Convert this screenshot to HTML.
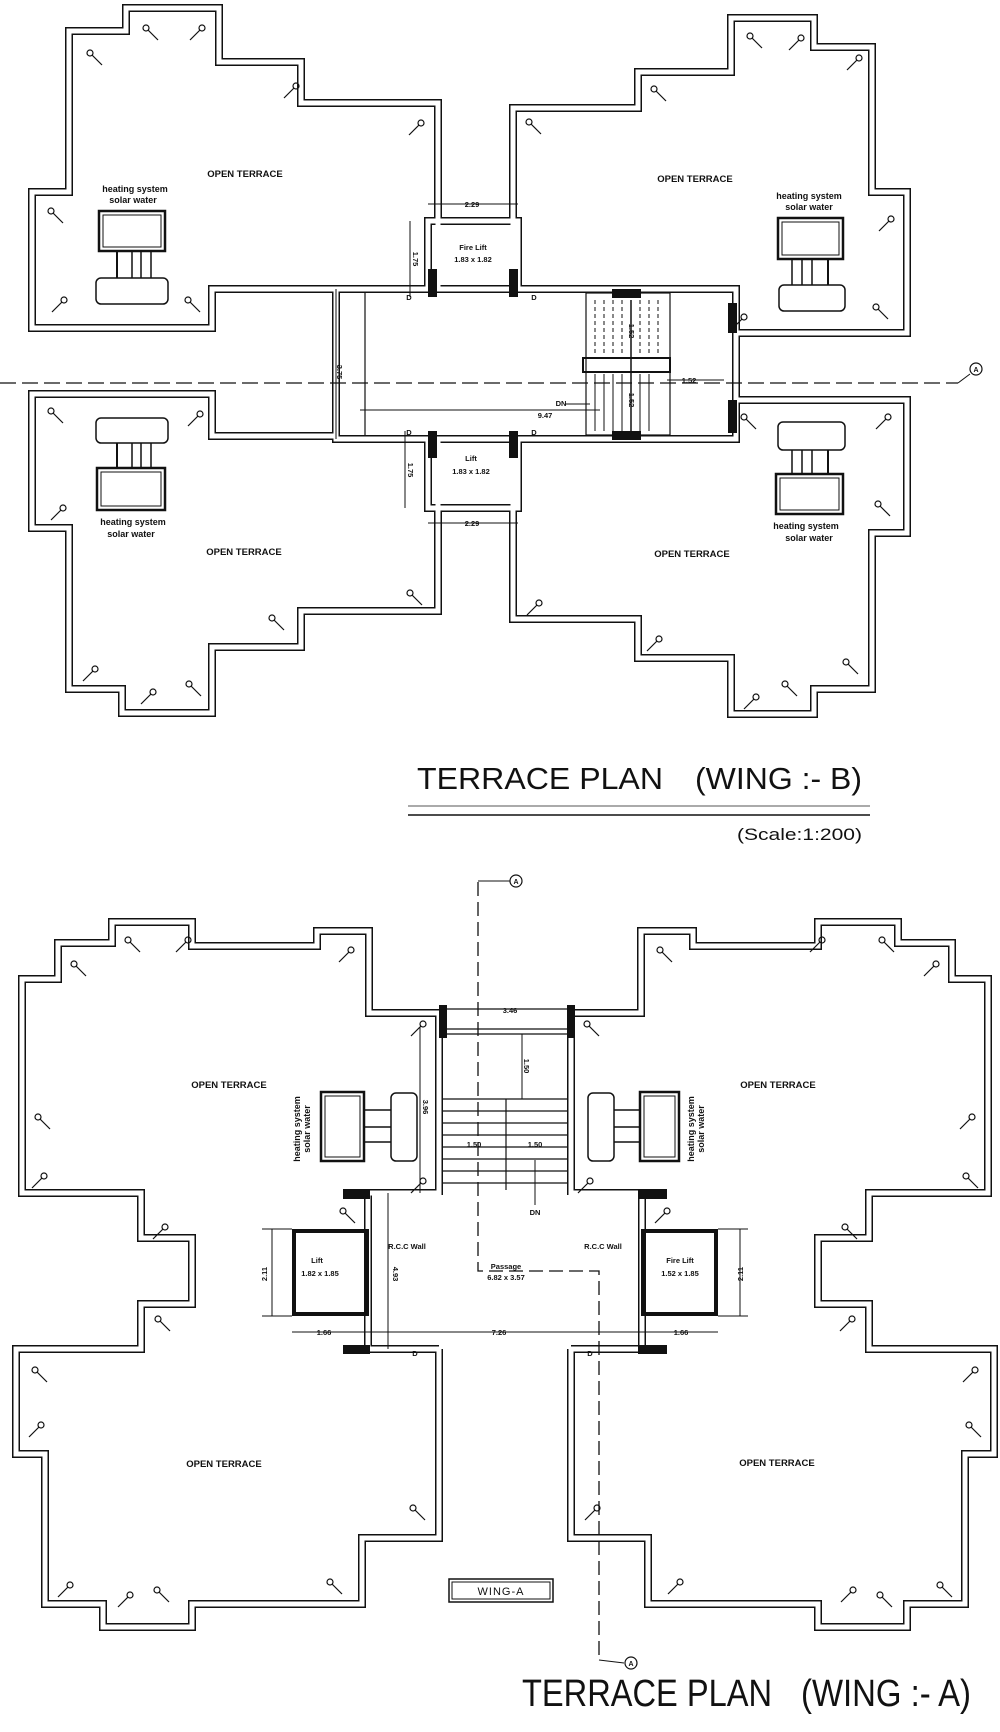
<!DOCTYPE html>
<html><head><meta charset="utf-8"><style>
html,body{margin:0;padding:0;background:#fff;}
svg{display:block;}
text{font-family:"Liberation Sans",sans-serif;fill:#111;}
.b{font-weight:bold;}
</style></head><body>
<svg width="1000" height="1732" viewBox="0 0 1000 1732" xmlns="http://www.w3.org/2000/svg">
<defs>
<g id="lmp"><circle cx="0" cy="0" r="3" fill="none" stroke="#111" stroke-width="1.2"/><line x1="-2" y1="2" x2="-12" y2="12" stroke="#111" stroke-width="1.2"/></g>
<g id="lmp2"><circle cx="0" cy="0" r="3" fill="none" stroke="#111" stroke-width="1.2"/><line x1="2" y1="2" x2="12" y2="12" stroke="#111" stroke-width="1.2"/></g>
</defs>
<rect width="1000" height="1732" fill="#fff"/>

<!-- ============ WING B ============ -->
<g fill="none" stroke-linejoin="miter">
<g stroke="#111" stroke-width="8">
<polyline points="438,289 438,103 301,103 301,62 219,62 219,8 126,8 126,31 69,31 69,192 32,192 32,328 212,328 212,289 336,289"/>
<polyline points="513,289 513,108 638,108 638,72 731,72 731,18 814,18 814,47 872,47 872,192 907,192 907,333 736,333"/>
<polyline points="336,436 212,436 212,394 32,394 32,528 69,528 69,689 122,689 122,713 212,713 212,647 301,647 301,611 438,611 438,439"/>
<polyline points="736,400 907,400 907,533 872,533 872,689 814,689 814,714 731,714 731,658 638,658 638,619 513,619 513,439"/>
<rect x="336" y="289" width="400" height="150"/>
<rect x="428" y="221" width="90" height="68"/>
<rect x="428" y="439" width="90" height="69"/>
</g>
<g stroke="#fff" stroke-width="5">
<polyline points="438,289 438,103 301,103 301,62 219,62 219,8 126,8 126,31 69,31 69,192 32,192 32,328 212,328 212,289 336,289"/>
<polyline points="513,289 513,108 638,108 638,72 731,72 731,18 814,18 814,47 872,47 872,192 907,192 907,333 736,333"/>
<polyline points="336,436 212,436 212,394 32,394 32,528 69,528 69,689 122,689 122,713 212,713 212,647 301,647 301,611 438,611 438,439"/>
<polyline points="736,400 907,400 907,533 872,533 872,689 814,689 814,714 731,714 731,658 638,658 638,619 513,619 513,439"/>
<rect x="336" y="289" width="400" height="150"/>
<rect x="428" y="221" width="90" height="68"/>
<rect x="428" y="439" width="90" height="69"/>
</g>
<rect x="341" y="293" width="391" height="142" fill="#fff" stroke="none"/>
<rect x="432" y="225" width="82" height="60" fill="#fff" stroke="none"/>
<rect x="432" y="443" width="82" height="61" fill="#fff" stroke="none"/>
<line x1="365" y1="293" x2="365" y2="435" stroke="#111" stroke-width="1.2"/>
<rect x="586" y="293" width="84" height="142" stroke="#111" stroke-width="1.2"/>
<g stroke="#111" stroke-width="1" stroke-dasharray="4,3">
<line x1="595" y1="300" x2="595" y2="356"/><line x1="604" y1="300" x2="604" y2="356"/><line x1="613" y1="300" x2="613" y2="356"/><line x1="622" y1="300" x2="622" y2="356"/><line x1="640" y1="300" x2="640" y2="356"/><line x1="649" y1="300" x2="649" y2="356"/><line x1="658" y1="300" x2="658" y2="356"/>
</g>
<g stroke="#111" stroke-width="1">
<line x1="595" y1="374" x2="595" y2="431"/><line x1="604" y1="374" x2="604" y2="431"/><line x1="613" y1="374" x2="613" y2="431"/><line x1="622" y1="374" x2="622" y2="431"/><line x1="640" y1="374" x2="640" y2="431"/><line x1="649" y1="374" x2="649" y2="431"/>
</g>
<rect x="583" y="358" width="87" height="14" stroke="#111" stroke-width="2"/>
<line x1="631" y1="300" x2="631" y2="431" stroke="#111" stroke-width="1.5"/>
</g>
<g fill="#111">
<rect x="428" y="269" width="9" height="28"/><rect x="509" y="269" width="9" height="28"/>
<rect x="428" y="431" width="9" height="27"/><rect x="509" y="431" width="9" height="27"/>
<rect x="612" y="289" width="29" height="9"/><rect x="612" y="431" width="29" height="9"/>
<rect x="728" y="303" width="9" height="30"/><rect x="728" y="400" width="9" height="33"/>
</g>
<g stroke="#111" stroke-width="1" fill="none">
<line x1="428" y1="204" x2="518" y2="204"/><line x1="428" y1="523" x2="518" y2="523"/>
<line x1="410" y1="221" x2="410" y2="297"/><line x1="405" y1="431" x2="405" y2="508"/>
<line x1="336" y1="289" x2="336" y2="439"/>
<line x1="360" y1="410" x2="600" y2="410"/>
<line x1="667" y1="380" x2="724" y2="380"/>
<line x1="565" y1="404" x2="590" y2="404"/>
</g>
<g stroke="#111" stroke-width="1.3" stroke-dasharray="16,6" fill="none">
<line x1="0" y1="383" x2="958" y2="383"/>
</g>
<line x1="958" y1="383" x2="970" y2="374" stroke="#111" stroke-width="1"/>
<circle cx="976" cy="369" r="6" fill="#fff" stroke="#111" stroke-width="1.2"/>
<text x="976" y="372" font-size="7" text-anchor="middle" class="b">A</text>

<g class="b" font-size="7.5" text-anchor="middle">
<text x="472" y="207" class="b">2.29</text>
<text x="472" y="526" class="b">2.29</text>
<text x="473" y="250" class="b">Fire Lift</text>
<text x="473" y="262" class="b">1.83 x 1.82</text>
<text x="471" y="461" class="b">Lift</text>
<text x="471" y="474" class="b">1.83 x 1.82</text>
<text x="545" y="418" class="b">9.47</text>
<text x="561" y="406" class="b">DN</text>
<text x="689" y="383" class="b">1.52</text>
<text x="409" y="300" class="b">D</text><text x="534" y="300" class="b">D</text>
<text x="409" y="435" class="b">D</text><text x="534" y="435" class="b">D</text>
<text transform="translate(413,259) rotate(90)" class="b">1.75</text>
<text transform="translate(408,470) rotate(90)" class="b">1.75</text>
<text transform="translate(337,372) rotate(90)" class="b">3.75</text>
<text transform="translate(629,331) rotate(90)" class="b">1.52</text>
<text transform="translate(629,400) rotate(90)" class="b">1.52</text>
</g>
<g font-size="9.5" text-anchor="middle" class="b">
<text x="245" y="177" class="b">OPEN TERRACE</text>
<text x="695" y="182" class="b">OPEN TERRACE</text>
<text x="244" y="555" class="b">OPEN TERRACE</text>
<text x="692" y="557" class="b">OPEN TERRACE</text>
</g>
<g font-size="9" text-anchor="middle" class="b">
<text x="135" y="192" class="b">heating system</text><text x="133" y="203" class="b">solar water</text>
<text x="809" y="199" class="b">heating system</text><text x="809" y="210" class="b">solar water</text>
<text x="133" y="525" class="b">heating system</text><text x="131" y="537" class="b">solar water</text>
<text x="806" y="529" class="b">heating system</text><text x="809" y="541" class="b">solar water</text>
</g>
<g fill="none" stroke="#111">
<rect x="99" y="211" width="66" height="40" stroke-width="2.5"/><rect x="103" y="215" width="58" height="32" stroke-width="1"/>
<rect x="96" y="278" width="72" height="26" rx="5" stroke-width="1.5"/>
<line x1="117" y1="251" x2="117" y2="278" stroke-width="2"/><line x1="132" y1="251" x2="132" y2="278" stroke-width="1.5"/><line x1="141" y1="251" x2="141" y2="278" stroke-width="1.5"/><line x1="151" y1="251" x2="151" y2="278" stroke-width="1.5"/>
<rect x="778" y="218" width="65" height="41" stroke-width="2.5"/><rect x="782" y="222" width="57" height="33" stroke-width="1"/>
<rect x="779" y="285" width="66" height="26" rx="5" stroke-width="1.5"/>
<line x1="792" y1="259" x2="792" y2="285" stroke-width="1.5"/><line x1="802" y1="259" x2="802" y2="285" stroke-width="1.5"/><line x1="812" y1="259" x2="812" y2="285" stroke-width="1.5"/><line x1="828" y1="259" x2="828" y2="285" stroke-width="2"/>
<rect x="96" y="418" width="72" height="25" rx="5" stroke-width="1.5"/>
<rect x="97" y="468" width="68" height="42" stroke-width="2.5"/><rect x="101" y="472" width="60" height="34" stroke-width="1"/>
<line x1="117" y1="443" x2="117" y2="468" stroke-width="2"/><line x1="132" y1="443" x2="132" y2="468" stroke-width="1.5"/><line x1="141" y1="443" x2="141" y2="468" stroke-width="1.5"/><line x1="151" y1="443" x2="151" y2="468" stroke-width="1.5"/>
<rect x="778" y="422" width="67" height="28" rx="5" stroke-width="1.5"/>
<rect x="776" y="474" width="67" height="40" stroke-width="2.5"/><rect x="780" y="478" width="59" height="32" stroke-width="1"/>
<line x1="792" y1="450" x2="792" y2="474" stroke-width="1.5"/><line x1="802" y1="450" x2="802" y2="474" stroke-width="1.5"/><line x1="812" y1="450" x2="812" y2="474" stroke-width="1.5"/><line x1="828" y1="450" x2="828" y2="474" stroke-width="2"/>
</g>
<g>
<use href="#lmp2" x="146" y="28"/><use href="#lmp" x="202" y="28"/><use href="#lmp2" x="90" y="53"/><use href="#lmp" x="296" y="86"/><use href="#lmp" x="421" y="123"/><use href="#lmp2" x="51" y="211"/><use href="#lmp" x="64" y="300"/><use href="#lmp2" x="188" y="300"/>
<use href="#lmp2" x="750" y="36"/><use href="#lmp" x="801" y="38"/><use href="#lmp" x="859" y="58"/><use href="#lmp2" x="654" y="89"/><use href="#lmp2" x="529" y="122"/><use href="#lmp" x="891" y="219"/><use href="#lmp2" x="876" y="307"/><use href="#lmp" x="744" y="317"/>
<use href="#lmp2" x="51" y="411"/><use href="#lmp" x="200" y="414"/><use href="#lmp" x="63" y="508"/><use href="#lmp2" x="410" y="593"/><use href="#lmp2" x="272" y="618"/><use href="#lmp" x="95" y="669"/><use href="#lmp" x="153" y="692"/><use href="#lmp2" x="189" y="684"/>
<use href="#lmp2" x="744" y="417"/><use href="#lmp" x="888" y="417"/><use href="#lmp2" x="878" y="504"/><use href="#lmp" x="539" y="603"/><use href="#lmp" x="659" y="639"/><use href="#lmp2" x="846" y="662"/><use href="#lmp" x="756" y="697"/><use href="#lmp2" x="785" y="684"/>
</g>
<text x="417" y="789" font-size="31" textLength="246" lengthAdjust="spacingAndGlyphs">TERRACE PLAN</text>
<text x="695" y="789" font-size="31" textLength="167" lengthAdjust="spacingAndGlyphs">(WING :- B)</text>
<line x1="408" y1="806" x2="870" y2="806" stroke="#555" stroke-width="1"/>
<line x1="408" y1="815" x2="870" y2="815" stroke="#111" stroke-width="1.5"/>
<text x="737" y="840" font-size="17" textLength="125" lengthAdjust="spacingAndGlyphs">(Scale:1:200)</text>

<!-- ============ WING A ============ -->
<g fill="none">
<g stroke="#111" stroke-width="8">
<polyline points="439,1013 369,1013 369,931 317,931 317,946 192,946 192,922 112,922 112,943 58,943 58,979 22,979 22,1193 141,1193 141,1238 192,1238 192,1304 141,1304 141,1349 16,1349 16,1454 45,1454 45,1604 103,1604 103,1627 192,1627 192,1604 362,1604 362,1538 439,1538 439,1349"/>
<polyline points="571,1013 641,1013 641,931 693,931 693,946 818,946 818,922 898,922 898,943 952,943 952,979 988,979 988,1193 869,1193 869,1238 818,1238 818,1304 869,1304 869,1349 994,1349 994,1454 965,1454 965,1604 907,1604 907,1627 818,1627 818,1604 648,1604 648,1538 571,1538 571,1349"/>
<polyline points="439,1013 439,1193 343,1193"/>
<polyline points="571,1013 571,1193 667,1193"/>
<polyline points="343,1349 439,1349"/><polyline points="571,1349 667,1349"/>
<line x1="368" y1="1193" x2="368" y2="1349"/><line x1="642" y1="1193" x2="642" y2="1349"/>
</g>
<g stroke="#fff" stroke-width="5">
<polyline points="439,1013 369,1013 369,931 317,931 317,946 192,946 192,922 112,922 112,943 58,943 58,979 22,979 22,1193 141,1193 141,1238 192,1238 192,1304 141,1304 141,1349 16,1349 16,1454 45,1454 45,1604 103,1604 103,1627 192,1627 192,1604 362,1604 362,1538 439,1538 439,1349"/>
<polyline points="571,1013 641,1013 641,931 693,931 693,946 818,946 818,922 898,922 898,943 952,943 952,979 988,979 988,1193 869,1193 869,1238 818,1238 818,1304 869,1304 869,1349 994,1349 994,1454 965,1454 965,1604 907,1604 907,1627 818,1627 818,1604 648,1604 648,1538 571,1538 571,1349"/>
<polyline points="439,1013 439,1193 343,1193"/>
<polyline points="571,1013 571,1193 667,1193"/>
<polyline points="343,1349 439,1349"/><polyline points="571,1349 667,1349"/>
<line x1="368" y1="1193" x2="368" y2="1349"/><line x1="642" y1="1193" x2="642" y2="1349"/>
</g>
<rect x="443" y="1190" width="124" height="8" fill="#fff" stroke="none"/>
<rect x="372" y="1195" width="266" height="150" fill="#fff" stroke="none"/>
<g stroke="#111" stroke-width="1.2">
<line x1="439" y1="1009" x2="571" y2="1009"/>
<line x1="443" y1="1029" x2="567" y2="1029"/><line x1="443" y1="1034" x2="567" y2="1034"/>
<line x1="443" y1="1099" x2="567" y2="1099"/><line x1="443" y1="1111" x2="567" y2="1111"/><line x1="443" y1="1123" x2="567" y2="1123"/><line x1="443" y1="1135" x2="567" y2="1135"/><line x1="443" y1="1147" x2="567" y2="1147"/><line x1="443" y1="1159" x2="567" y2="1159"/><line x1="443" y1="1171" x2="567" y2="1171"/><line x1="443" y1="1183" x2="567" y2="1183"/>
<line x1="506" y1="1099" x2="506" y2="1190"/>
<line x1="535" y1="1160" x2="535" y2="1205" stroke-width="1"/>
</g>
<g fill="none" stroke="#111" stroke-width="1">
<line x1="420" y1="1027" x2="420" y2="1193"/>
<line x1="522" y1="1034" x2="522" y2="1099"/>
<line x1="272" y1="1229" x2="272" y2="1316"/><line x1="740" y1="1229" x2="740" y2="1316"/>
<line x1="388" y1="1193" x2="388" y2="1349"/>
<line x1="292" y1="1332" x2="718" y2="1332"/>
<line x1="262" y1="1229" x2="292" y2="1229"/><line x1="262" y1="1316" x2="292" y2="1316"/>
<line x1="718" y1="1229" x2="748" y2="1229"/><line x1="718" y1="1316" x2="748" y2="1316"/>
</g>
<g stroke="#111" stroke-width="1.3" stroke-dasharray="14,6">
<polyline points="478,882 478,1271 599,1271 599,1660"/>
</g>
<line x1="599" y1="1660" x2="624" y2="1663" stroke="#111" stroke-width="1"/>
<line x1="478" y1="881" x2="510" y2="881" stroke="#111" stroke-width="1"/>
<rect x="294" y="1231" width="73" height="83" stroke="#111" stroke-width="4"/>
<rect x="643" y="1231" width="73" height="83" stroke="#111" stroke-width="4"/>
<g stroke="#111">
<rect x="321" y="1092" width="43" height="69" stroke-width="2.5"/><rect x="325" y="1096" width="35" height="61" stroke-width="1"/>
<rect x="391" y="1093" width="26" height="68" rx="5" stroke-width="1.5"/>
<line x1="364" y1="1110" x2="391" y2="1110" stroke-width="1.5"/><line x1="364" y1="1127" x2="391" y2="1127" stroke-width="1.5"/><line x1="364" y1="1142" x2="391" y2="1142" stroke-width="1.5"/>
<rect x="588" y="1093" width="26" height="68" rx="5" stroke-width="1.5"/>
<rect x="640" y="1092" width="39" height="69" stroke-width="2.5"/><rect x="644" y="1096" width="31" height="61" stroke-width="1"/>
<line x1="614" y1="1110" x2="640" y2="1110" stroke-width="1.5"/><line x1="614" y1="1127" x2="640" y2="1127" stroke-width="1.5"/><line x1="614" y1="1142" x2="640" y2="1142" stroke-width="1.5"/>
</g>
<rect x="449" y="1579" width="104" height="23" stroke="#111" stroke-width="1.5"/>
<rect x="452" y="1582" width="98" height="17" stroke="#111" stroke-width="1"/>
</g>
<g fill="#111">
<rect x="439" y="1005" width="8" height="33"/><rect x="567" y="1005" width="8" height="33"/>
<rect x="343" y="1190" width="27" height="9"/><rect x="638" y="1190" width="29" height="9"/>
<rect x="343" y="1345" width="27" height="9"/><rect x="638" y="1345" width="29" height="9"/>
</g>
<circle cx="516" cy="881" r="6" fill="#fff" stroke="#111" stroke-width="1.2"/>
<text x="516" y="884" font-size="7" text-anchor="middle" class="b">A</text>
<circle cx="631" cy="1663" r="6" fill="#fff" stroke="#111" stroke-width="1.2"/>
<text x="631" y="1666" font-size="7" text-anchor="middle" class="b">A</text>

<g font-size="9.5" text-anchor="middle" class="b">
<text x="229" y="1088" class="b">OPEN TERRACE</text>
<text x="778" y="1088" class="b">OPEN TERRACE</text>
<text x="224" y="1467" class="b">OPEN TERRACE</text>
<text x="777" y="1466" class="b">OPEN TERRACE</text>
</g>
<g font-size="7.5" text-anchor="middle" class="b">
<text x="510" y="1013" class="b">3.46</text>
<text x="474" y="1147" class="b">1.50</text><text x="535" y="1147" class="b">1.50</text>
<text x="535" y="1215" class="b">DN</text>
<text x="317" y="1263" class="b">Lift</text><text x="320" y="1276" class="b">1.82 x 1.85</text>
<text x="680" y="1263" class="b">Fire Lift</text><text x="680" y="1276" class="b">1.52 x 1.85</text>
<text x="407" y="1249" class="b">R.C.C Wall</text><text x="603" y="1249" class="b">R.C.C Wall</text>
<text x="506" y="1269" class="b">Passage</text><text x="506" y="1280" class="b">6.82 x 3.57</text>
<text x="324" y="1335" class="b">1.66</text><text x="499" y="1335" class="b">7.26</text><text x="681" y="1335" class="b">1.66</text>
<text x="415" y="1356" class="b">D</text><text x="590" y="1356" class="b">D</text>
<text transform="translate(524,1066) rotate(90)" class="b">1.50</text>
<text transform="translate(423,1107) rotate(90)" class="b">3.96</text>
<text transform="translate(267,1274) rotate(-90)" class="b">2.11</text>
<text transform="translate(743,1274) rotate(-90)" class="b">2.11</text>
<text transform="translate(393,1274) rotate(90)" class="b">4.93</text>
</g>
<g font-size="9" text-anchor="middle" class="b">
<text transform="translate(300,1129) rotate(-90)" class="b">heating system</text>
<text transform="translate(310,1129) rotate(-90)" class="b">solar water</text>
<text transform="translate(694,1129) rotate(-90)" class="b">heating system</text>
<text transform="translate(704,1129) rotate(-90)" class="b">solar water</text>
</g>
<text x="501" y="1595" font-size="11" text-anchor="middle" letter-spacing="1">WING-A</text>
<g>
<use href="#lmp2" x="128" y="940"/><use href="#lmp" x="188" y="940"/><use href="#lmp" x="351" y="950"/><use href="#lmp2" x="74" y="964"/><use href="#lmp2" x="38" y="1117"/><use href="#lmp" x="44" y="1176"/><use href="#lmp" x="165" y="1227"/><use href="#lmp2" x="343" y="1211"/><use href="#lmp2" x="158" y="1319"/><use href="#lmp" x="423" y="1024"/><use href="#lmp" x="423" y="1181"/>
<use href="#lmp2" x="35" y="1370"/><use href="#lmp" x="41" y="1425"/><use href="#lmp2" x="413" y="1508"/><use href="#lmp" x="70" y="1585"/><use href="#lmp" x="130" y="1595"/><use href="#lmp2" x="157" y="1590"/><use href="#lmp2" x="330" y="1582"/>
<use href="#lmp2" x="660" y="950"/><use href="#lmp" x="822" y="940"/><use href="#lmp2" x="882" y="940"/><use href="#lmp" x="936" y="964"/><use href="#lmp" x="972" y="1117"/><use href="#lmp2" x="966" y="1176"/><use href="#lmp2" x="845" y="1227"/><use href="#lmp" x="667" y="1211"/><use href="#lmp" x="852" y="1319"/><use href="#lmp2" x="587" y="1024"/><use href="#lmp" x="590" y="1181"/>
<use href="#lmp" x="975" y="1370"/><use href="#lmp2" x="969" y="1425"/><use href="#lmp" x="597" y="1508"/><use href="#lmp2" x="940" y="1585"/><use href="#lmp2" x="880" y="1595"/><use href="#lmp" x="853" y="1590"/><use href="#lmp" x="680" y="1582"/>
</g>
<text x="522" y="1706" font-size="38" textLength="250" lengthAdjust="spacingAndGlyphs">TERRACE PLAN</text>
<text x="801" y="1706" font-size="38" textLength="170" lengthAdjust="spacingAndGlyphs">(WING :- A)</text>
</svg>
</body></html>
